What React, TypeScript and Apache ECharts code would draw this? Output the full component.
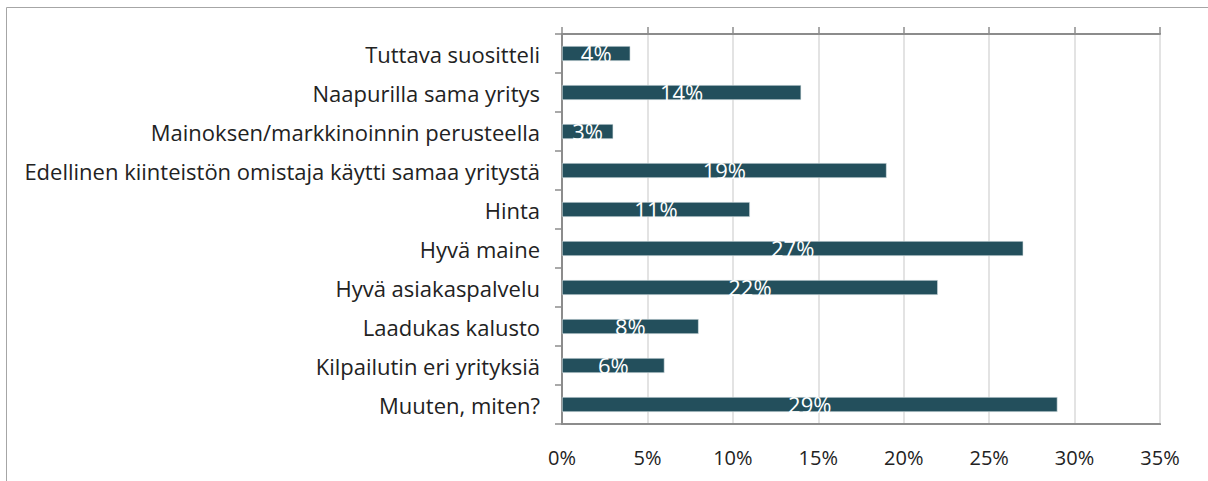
import React, { useEffect, useRef } from "react";
import * as echarts from "echarts";

const categories = [
  "Tuttava suositteli",
  "Naapurilla sama yritys",
  "Mainoksen/markkinoinnin perusteella",
  "Edellinen kiinteistön omistaja käytti samaa yritystä",
  "Hinta",
  "Hyvä maine",
  "Hyvä asiakaspalvelu",
  "Laadukas kalusto",
  "Kilpailutin eri yrityksiä",
  "Muuten, miten?",
];
const values = [4, 14, 3, 19, 11, 27, 22, 8, 6, 29];
const axisMin = 0;
const axisMax = 35;
const axisStep = 5;

export default function App() {
  const ref = useRef<HTMLDivElement>(null);
  useEffect(() => {
    if (!ref.current) return;
    const chart = echarts.init(ref.current, null, { renderer: "svg" });
    const font = "'Open Sans', sans-serif";
    chart.setOption({
      animation: false,
      backgroundColor: "#ffffff",
      graphic: [
        {
          type: "rect",
          shape: { x: 6.5, y: 7.5, width: 1300, height: 600 },
          style: { fill: "none", stroke: "#a6a6a6", lineWidth: 1 },
          silent: true,
        },
      ],
      grid: {
        left: 562,
        top: 34,
        right: 48,
        bottom: 57,
        show: true,
        borderColor: "#8c8c8c",
        borderWidth: 2,
        containLabel: false,
      },
      xAxis: [
        {
          type: "value",
          position: "top",
          min: axisMin,
          max: axisMax,
          interval: axisStep,
          axisLine: { show: true, lineStyle: { color: "#8c8c8c", width: 2 } },
          axisTick: { show: true, length: 7, lineStyle: { color: "#8c8c8c", width: 1.5 } },
          axisLabel: { show: false },
          splitLine: { show: true, lineStyle: { color: "#e3e3e3", width: 2 } },
        },
        {
          type: "value",
          position: "bottom",
          min: axisMin,
          max: axisMax,
          interval: axisStep,
          axisLine: { show: true, lineStyle: { color: "#8c8c8c", width: 2 } },
          axisTick: { show: false },
          splitLine: { show: false },
          axisLabel: {
            margin: 23,
            color: "#222",
            fontFamily: font,
            fontSize: 20,
            formatter: (v: number) => `${v}%`,
          },
        },
      ],
      yAxis: {
        type: "category",
        inverse: true,
        data: categories,
        axisLine: { show: true, lineStyle: { color: "#8c8c8c", width: 2 } },
        axisTick: { show: true, length: 7, lineStyle: { color: "#8c8c8c", width: 1.5 } },
        axisLabel: {
          margin: 22,
          color: "#222",
          fontFamily: font,
          fontSize: 22,
        },
        splitLine: { show: false },
      },
      series: [
        {
          type: "bar",
          xAxisIndex: 1,
          data: values,
          barWidth: 15,
          itemStyle: { color: "#234F5C", borderColor: "#dfe8ea", borderWidth: 0.6 },
          label: {
            show: true,
            position: "inside",
            offset: [0, -1],
            color: "#ffffff",
            fontFamily: font,
            fontSize: 22,
            formatter: (p: any) => `${p.value}%`,
          },
        },
      ],
    });
    return () => chart.dispose();
  }, []);
  return (
    <div
      ref={ref}
      style={{ position: "absolute", left: 0, top: 0, width: 1208, height: 481 }}
    />
  );
}
